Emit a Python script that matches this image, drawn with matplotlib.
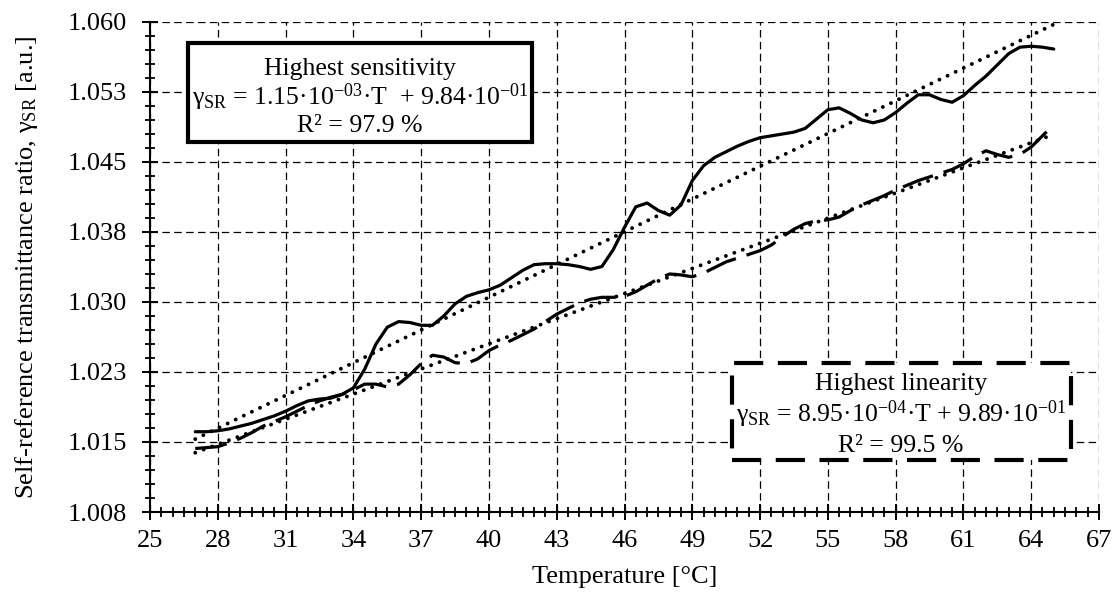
import numpy as np
import matplotlib
matplotlib.use("Agg")
import matplotlib.pyplot as plt
from matplotlib.ticker import AutoMinorLocator
from matplotlib.patches import Rectangle

plt.rcParams['font.family'] = ['Liberation Serif', 'DejaVu Serif']
plt.rcParams['mathtext.fontset'] = 'custom'
plt.rcParams['mathtext.rm'] = 'Liberation Serif'
plt.rcParams['mathtext.it'] = 'Liberation Serif:italic'

# temperatures [°C]
temps = [27.0, 27.5, 28.0, 28.5, 29.0, 29.5, 30.0, 30.5, 31.0, 31.5,
         32.0, 32.5, 33.0, 33.5, 34.0, 34.5, 35.0, 35.5, 36.0, 36.5,
         37.0, 37.5, 38.0, 38.5, 39.0, 39.5, 40.0, 40.5, 41.0, 41.5,
         42.0, 42.5, 43.0, 43.5, 44.0, 44.5, 45.0, 45.5, 46.0, 46.5,
         47.0, 47.5, 48.0, 48.5, 49.0, 49.5, 50.0, 50.5, 51.0, 51.5,
         52.0, 52.5, 53.0, 53.5, 54.0, 54.5, 55.0, 55.5, 56.0, 56.5,
         57.0, 57.5, 58.0, 58.5, 59.0, 59.5, 60.0, 60.5, 61.0, 61.5,
         62.0, 62.5, 63.0, 63.5, 64.0, 64.5, 65.0]

# highest sensitivity (solid)
sens = [1.0161, 1.0161, 1.0162, 1.0164, 1.0167, 1.0170, 1.0174, 1.0178, 1.0183, 1.0189,
        1.0194, 1.0196, 1.0197, 1.0201, 1.0208, 1.0228, 1.0255, 1.0273, 1.0279, 1.0278,
        1.0275, 1.0275, 1.0285, 1.0298, 1.0306, 1.0310, 1.0313, 1.0318, 1.0326, 1.0334,
        1.0340, 1.0341, 1.0341, 1.0340, 1.0338, 1.0335, 1.0338, 1.0356, 1.0380, 1.0402,
        1.0406, 1.0398, 1.0393, 1.0404, 1.0430, 1.0446, 1.0455, 1.0461, 1.0467, 1.0472,
        1.0476, 1.0478, 1.0480, 1.0482, 1.0486, 1.0496, 1.0506, 1.0508, 1.0502, 1.0495,
        1.0492, 1.0495, 1.0503, 1.0513, 1.0522, 1.0522, 1.0517, 1.0514, 1.0521, 1.0532,
        1.0542, 1.0554, 1.0566, 1.0573, 1.0574, 1.0573, 1.0571]

# highest linearity (dashed)
lin = [1.0143, 1.0144, 1.0145, 1.0149, 1.0154, 1.0160, 1.0167, 1.0172, 1.0177, 1.0183,
       1.0189, 1.0194, 1.0198, 1.0201, 1.0206, 1.0212, 1.0212, 1.0209, 1.0212, 1.0222,
       1.0234, 1.0243, 1.0241, 1.0235, 1.0234, 1.0239, 1.0248, 1.0254, 1.0259, 1.0265,
       1.0271, 1.0279, 1.0287, 1.0293, 1.0299, 1.0303, 1.0305, 1.0305, 1.0306, 1.0311,
       1.0318, 1.0325, 1.0330, 1.0329, 1.0327, 1.0331, 1.0337, 1.0343, 1.0347, 1.0351,
       1.0355, 1.0361, 1.0370, 1.0378, 1.0384, 1.0387, 1.0388, 1.0391, 1.0398, 1.0404,
       1.0409, 1.0414, 1.0420, 1.0425, 1.0430, 1.0434, 1.0438, 1.0442, 1.0448, 1.0456,
       1.0462, 1.0458, 1.0455, 1.0458, 1.0466, 1.0478, 1.0490]

x_ticks = [25, 28, 31, 34, 37, 40, 43, 46, 49, 52, 55, 58, 61, 64, 67]
y_ticks = [1.0075, 1.015, 1.0225, 1.03, 1.0375, 1.045, 1.0525, 1.06]
y_labels = ["1.008", "1.015", "1.023", "1.030", "1.038", "1.045", "1.053", "1.060"]

sens_lines = ["Highest sensitivity",
              r"$\mathrm{γ_{SR}}$ = 1.15·10$^{\mathrm{-03}}$·T  + 9.84·10$^{\mathrm{-01}}$",
              "R² = 97.9 %"]
lin_lines = ["Highest linearity",
             r"$\mathrm{γ_{SR}}$ = 8.95·10$^{\mathrm{-04}}$·T + 9.89·10$^{\mathrm{-01}}$",
             "R² = 99.5 %"]

FS = 19
BOX_FS = 18.5

fig = plt.figure(figsize=(11.14, 6.02), dpi=100)
ax = fig.add_axes([0.1347, 0.1495, 0.8518, 0.814])

t = np.array(temps)
ax.plot(t, sens, color='black', lw=2.3, solid_capstyle='round',
        solid_joinstyle='round', zorder=4)
ax.plot(t, lin, color='black', lw=2.3, ls=(0, (10, 3.5)), zorder=4)

# linear trend lines
for series in (sens, lin):
    k, b = np.polyfit(t, series, 1)
    ax.plot([t[0], t[-1]], [k * t[0] + b, k * t[-1] + b], color='black',
            lw=2.8, ls=(0, (0.01, 2.3)), dash_capstyle='round', zorder=3)

ax.set_xlim(25, 67)
ax.set_ylim(1.0075, 1.06)
ax.set_xticks(x_ticks)
ax.set_yticks(y_ticks)
ax.set_yticklabels(y_labels)
ax.xaxis.set_minor_locator(AutoMinorLocator(6))
ax.yaxis.set_minor_locator(AutoMinorLocator(5))
ax.tick_params(which='major', direction='inout', length=11, width=1.4,
               labelsize=FS, color='black')
ax.tick_params(which='minor', direction='inout', length=7.5, width=1.3, color='black')
ax.tick_params(axis='x', which='major', pad=7.5)
ax.tick_params(axis='y', which='major', pad=11)

ax.grid(True, which='major', color='black', lw=0.9, ls=(0, (6, 3.5)))
ax.set_axisbelow(True)
for side in ('top', 'right'):
    ax.spines[side].set_visible(False)
for side in ('left', 'bottom'):
    ax.spines[side].set_linewidth(1.5)

ax.set_xlabel("Temperature [°C]", fontsize=FS, labelpad=10)
ax.set_ylabel(r"Self-reference transmittance ratio, $\mathrm{γ_{SR}}$ [a.u.]",
              fontsize=FS, labelpad=20)

# equation boxes
ax.add_patch(Rectangle((0.040, 0.755), 0.3625, 0.202, transform=ax.transAxes,
                       fc='white', ec='black', lw=3, joinstyle='miter', zorder=5))
for txt, yy in zip(sens_lines, (0.892, 0.831, 0.7755)):
    ax.text(0.2213, yy, txt, transform=ax.transAxes, ha='center', va='baseline',
            fontsize=BOX_FS, zorder=6)

ax.add_patch(Rectangle((0.6133, 0.106), 0.3572, 0.198, transform=ax.transAxes,
                       fc='white', ec='black', lw=3, ls=(0, (7, 3.5)),
                       joinstyle='miter', zorder=5))
for txt, yy in zip(lin_lines, (0.249, 0.1837, 0.1224)):
    ax.text(0.7914, yy, txt, transform=ax.transAxes, ha='center', va='baseline',
            fontsize=BOX_FS, zorder=6)

fig.savefig("out.png", dpi=100)
